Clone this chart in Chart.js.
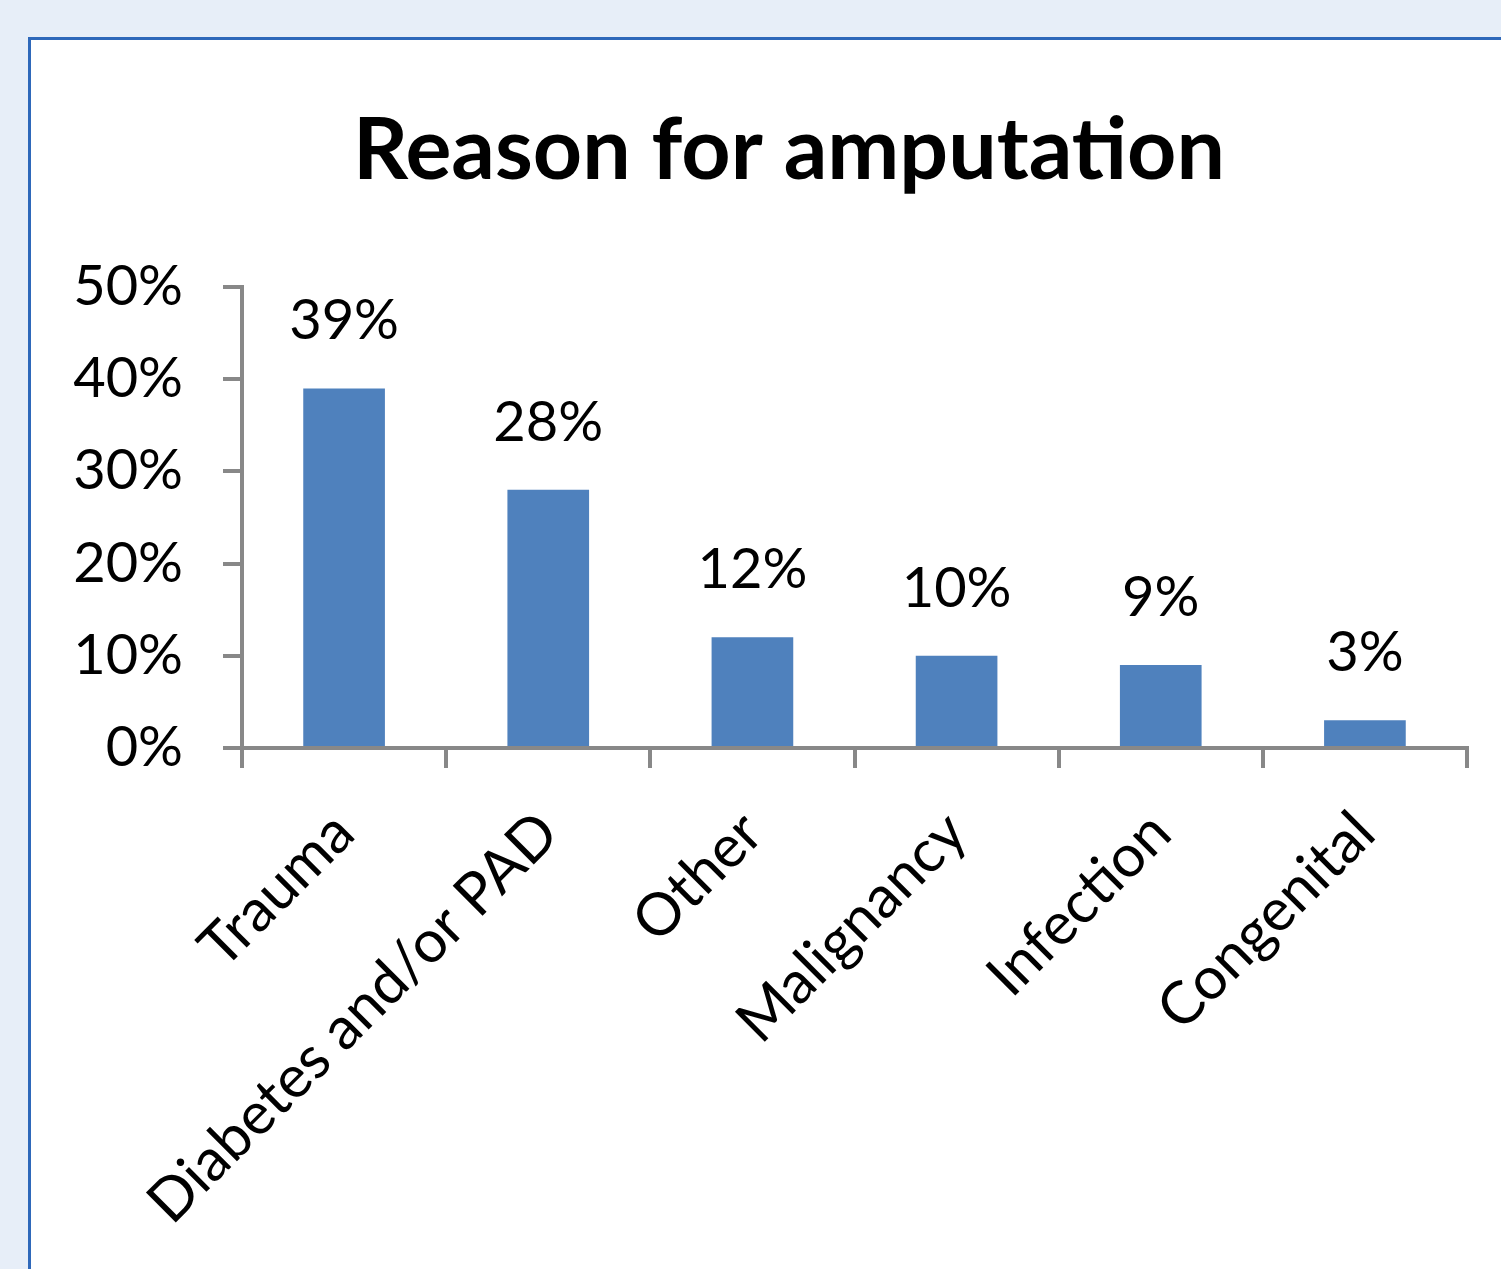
<!DOCTYPE html>
<html>
<head>
<meta charset="utf-8">
<script src="https://cdn.jsdelivr.net/npm/chart.js@4/dist/chart.umd.min.js"></script>
<style>
  html, body { margin: 0; padding: 0; background: #e7eef8; width: 1501px; height: 1269px; overflow: hidden; }
  #panel { position: absolute; left: 28px; top: 37px; width: 1600px; height: 1400px; background: #ffffff; border: 3px solid #2e68ba; box-sizing: border-box; }
  #wrap { position: absolute; left: 0; top: 0; width: 1501px; height: 1269px; }
</style>
</head>
<body>
<div id="panel"></div>
<div id="wrap"><canvas id="c" width="1501" height="1269"></canvas></div>
<script>
const categories = ["Trauma", "Diabetes and/or PAD", "Other", "Malignancy", "Infection", "Congenital"];
const values = [39, 28, 12, 10, 9, 3];
const valueLabels = ["39%", "28%", "12%", "10%", "9%", "3%"];
const yTickMax = 50;
const yTickStep = 10;
const titleText = "Reason for amputation";

const titlePlugin = {
  id: 'panelTitle',
  afterDraw(chart) {
    const ctx = chart.ctx;
    ctx.save();
    ctx.font = 'bold 86px Lato';
    ctx.fillStyle = '#000000';
    ctx.textAlign = 'center';
    ctx.textBaseline = 'alphabetic';
    ctx.fillText(titleText, 789, 179);
    ctx.restore();
  }
};

const barLabelPlugin = {
  id: 'barLabels',
  afterDatasetsDraw(chart) {
    const ctx = chart.ctx;
    const meta = chart.getDatasetMeta(0);
    ctx.save();
    ctx.font = '56px Lato';
    ctx.fillStyle = '#000000';
    ctx.textAlign = 'center';
    ctx.textBaseline = 'alphabetic';
    meta.data.forEach((el, i) => {
      ctx.fillText(valueLabels[i], el.x, el.y - 49);
    });
    ctx.restore();
  }
};

new Chart(document.getElementById('c'), {
  type: 'bar',
  data: {
    labels: categories,
    datasets: [{
      data: values,
      backgroundColor: '#4f81bd',
      borderWidth: 0,
      categoryPercentage: 1.0,
      barPercentage: 0.4
    }]
  },
  options: {
    responsive: false,
    animation: false,
    devicePixelRatio: 1,
    layout: { padding: { left: 0, right: 34, top: 287, bottom: 0 } },
    plugins: {
      legend: { display: false },
      tooltip: { enabled: false },
      title: { display: false }
    },
    scales: {
      x: {
        offset: true,
        grid: { display: true, offset: true, drawOnChartArea: false, drawTicks: true, tickLength: 20, color: '#888888', lineWidth: 4 },
        border: { display: true, color: '#888888', width: 4 },
        ticks: {
          color: '#000000',
          font: { family: 'Lato', size: 59 },
          maxRotation: 45, minRotation: 45,
          padding: 30,
          autoSkip: false
        },
        afterFit(scale) { scale.height = 521; }
      },
      y: {
        min: 0, max: yTickMax,
        grid: { display: true, drawOnChartArea: false, drawTicks: true, tickLength: 19, color: '#888888', lineWidth: 4 },
        border: { display: true, color: '#888888', width: 4 },
        ticks: {
          stepSize: yTickStep,
          color: '#000000',
          font: { family: 'Lato', size: 56 },
          padding: 40,
          callback: v => v + '%'
        },
        afterFit(scale) { scale.width = 242; }
      }
    }
  },
  plugins: [barLabelPlugin, titlePlugin]
});
</script>
</body>
</html>
